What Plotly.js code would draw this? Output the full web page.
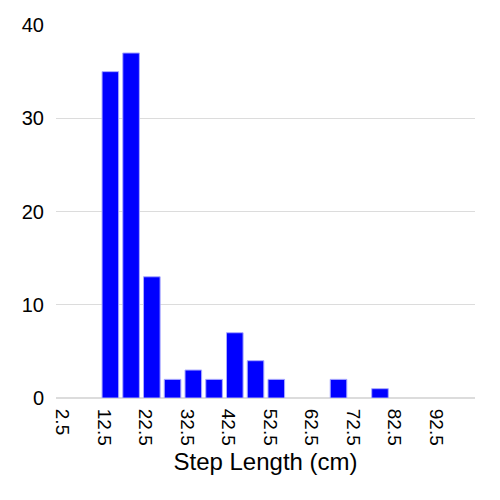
<!DOCTYPE html>
<html>
<head>
<meta charset="utf-8">
<script src="https://cdn.plot.ly/plotly-3.0.1.min.js"></script>
<style>
  html, body { margin: 0; padding: 0; background: #fff; }
  #chart { width: 500px; height: 500px; }
</style>
</head>
<body>
<div id="chart"></div>
<script>
// bin centres (cm) and counts per 5 cm bin
const binCenters = [14, 19, 24, 29, 34, 39, 44, 49, 54, 59, 64, 69, 74, 79];
const counts     = [35, 37, 13, 2, 3, 2, 7, 4, 2, 0, 0, 2, 0, 1];
const tickVals   = [2.5, 12.5, 22.5, 32.5, 42.5, 52.5, 62.5, 72.5, 82.5, 92.5];

const FONT = 'Liberation Sans, Arial, sans-serif';

Plotly.newPlot('chart', [{
  type: 'bar',
  x: binCenters,
  y: counts,
  width: 4,
  marker: {
    color: '#0000ff',
    // no outline on empty bins, otherwise a sliver shows on the axis
    line: { color: 'rgb(170,170,255)', width: counts.map(c => (c ? 1 : 0)) }
  },
  hoverinfo: 'x+y'
}], {
  width: 500, height: 500,
  margin: { t: 25, b: 102, l: 56, r: 25 },
  paper_bgcolor: '#fff', plot_bgcolor: '#fff',
  showlegend: false,
  font: { family: FONT, color: '#000', size: 19 },
  xaxis: {
    range: [0.9, 101.9],
    tickvals: tickVals,
    ticktext: tickVals.map(v => v.toFixed(1)),
    tickangle: 90,
    showgrid: false, zeroline: false, showline: false,
    ticks: 'outside', ticklen: 6, tickcolor: 'rgba(0,0,0,0)',
    tickfont: { size: 19 },
    title: { text: 'Step Length (cm)', font: { size: 24 }, standoff: 8 }
  },
  yaxis: {
    range: [0, 40],
    dtick: 10,
    gridcolor: '#dcdcdc', gridwidth: 1,
    zeroline: true, zerolinecolor: '#dcdcdc', zerolinewidth: 2,
    showline: false,
    ticks: 'outside', ticklen: 7, tickcolor: 'rgba(0,0,0,0)',
    tickfont: { size: 20 }
  }
}, { displayModeBar: false, staticPlot: true });
</script>
</body>
</html>
